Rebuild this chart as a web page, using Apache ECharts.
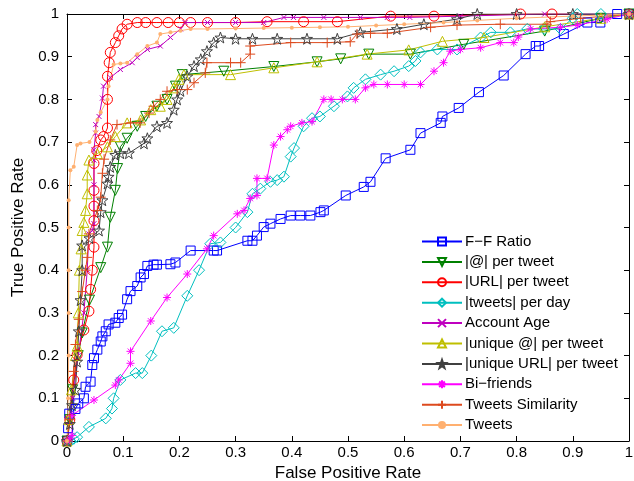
<!DOCTYPE html>
<html lang="en">
<head>
<meta charset="UTF-8" />
<title>ROC curves</title>
<script type="text/javascript" src="https://cdn.jsdelivr.net/npm/echarts@6/dist/echarts.min.js"></script>
<style>
  html, body { margin: 0; padding: 0; background: #fff; }
</style>
</head>
<body>
<div id="main" style="width: 634px; height: 481px;"></div>
<script type="text/javascript">
    // tick labels
    var ticks = ['0', '0.1', '0.2', '0.3', '0.4', '0.5', '0.6', '0.7', '0.8', '0.9', '1'];

    // [false positive rate, true positive rate]
    var ffRatio = [[0,0],[0.002,0.03],[0.004,0.064],[0.015,0.075],[0.02,0.088],[0.03,0.10],[0.033,0.127],[0.042,0.139],[0.045,0.178],[0.048,0.194],[0.054,0.214],[0.06,0.233],[0.063,0.245],[0.069,0.257],[0.074,0.273],[0.086,0.277],[0.092,0.288],[0.098,0.296],[0.107,0.332],[0.113,0.351],[0.125,0.363],[0.131,0.383],[0.137,0.391],[0.143,0.41],[0.154,0.413],[0.16,0.413],[0.184,0.414],[0.193,0.418],[0.22,0.446],[0.261,0.446],[0.267,0.446],[0.321,0.469],[0.33,0.469],[0.338,0.481],[0.35,0.501],[0.362,0.509],[0.38,0.52],[0.398,0.528],[0.415,0.528],[0.433,0.528],[0.451,0.536],[0.457,0.54],[0.496,0.575],[0.528,0.595],[0.54,0.607],[0.567,0.662],[0.611,0.682],[0.629,0.721],[0.665,0.745],[0.668,0.76],[0.697,0.78],[0.733,0.817],[0.777,0.856],[0.816,0.906],[0.834,0.925],[0.84,0.925],[0.884,0.953],[0.926,0.98],[0.949,0.98],[0.979,1],[1,1]];
    var atTweet = [[0,0],[0.005,0.05],[0.01,0.12],[0.02,0.2],[0.027,0.253],[0.04,0.33],[0.06,0.406],[0.072,0.454],[0.077,0.524],[0.086,0.587],[0.09,0.638],[0.095,0.689],[0.107,0.709],[0.125,0.737],[0.14,0.76],[0.16,0.784],[0.178,0.8],[0.193,0.831],[0.205,0.858],[0.279,0.866],[0.368,0.877],[0.445,0.888],[0.487,0.895],[0.537,0.906],[0.611,0.906],[0.706,0.929],[0.85,0.96],[0.95,0.99],[1,1]];
    var urlTweet = [[0,0],[0.005,0.05],[0.012,0.143],[0.018,0.202],[0.03,0.26],[0.039,0.304],[0.042,0.355],[0.045,0.40],[0.048,0.454],[0.048,0.516],[0.048,0.55],[0.048,0.587],[0.048,0.650],[0.053,0.68],[0.060,0.705],[0.065,0.713],[0.072,0.733],[0.072,0.80],[0.072,0.854],[0.075,0.886],[0.077,0.91],[0.086,0.933],[0.092,0.949],[0.098,0.965],[0.107,0.976],[0.125,0.98],[0.14,0.98],[0.16,0.98],[0.18,0.98],[0.2,0.98],[0.22,0.98],[0.25,0.98],[0.3,0.98],[0.356,0.982],[0.421,0.982],[0.481,0.982],[0.576,0.995],[0.653,0.995],[0.807,1],[0.863,1],[1,1]];
    var tweetsDay = [[0,0],[0.006,0],[0.012,0.005],[0.018,0.009],[0.039,0.033],[0.069,0.053],[0.08,0.076],[0.083,0.1],[0.095,0.143],[0.122,0.159],[0.134,0.159],[0.15,0.2],[0.169,0.257],[0.19,0.265],[0.214,0.34],[0.235,0.40],[0.255,0.462],[0.273,0.465],[0.3,0.5],[0.321,0.536],[0.33,0.579],[0.344,0.591],[0.362,0.607],[0.374,0.611],[0.386,0.619],[0.398,0.666],[0.404,0.686],[0.421,0.737],[0.436,0.756],[0.45,0.76],[0.475,0.784],[0.499,0.807],[0.51,0.827],[0.531,0.847],[0.558,0.858],[0.582,0.866],[0.608,0.878],[0.62,0.89],[0.629,0.91],[0.659,0.917],[0.694,0.917],[0.736,0.945],[0.754,0.957],[0.789,0.957],[0.819,0.965],[0.849,0.965],[0.878,0.965],[0.9,0.99],[0.908,1],[0.95,1],[1,1]];
    var accountAge = [[0,0],[0.01,0.1],[0.02,0.2],[0.03,0.3],[0.036,0.4],[0.039,0.485],[0.045,0.493],[0.048,0.509],[0.048,0.6],[0.048,0.658],[0.048,0.682],[0.051,0.721],[0.051,0.741],[0.057,0.76],[0.063,0.803],[0.065,0.831],[0.077,0.851],[0.095,0.87],[0.116,0.886],[0.125,0.898],[0.143,0.917],[0.166,0.925],[0.184,0.945],[0.202,0.965],[0.21,0.98],[0.25,0.98],[0.3,0.98],[0.35,0.98],[0.386,0.992],[0.403,0.992],[0.457,0.992],[0.522,0.992],[0.57,0.992],[0.61,0.992],[0.7,0.995],[0.85,1],[1,1]];
    var uniqAt = [[0,0],[0.003,0.05],[0.008,0.12],[0.015,0.2],[0.018,0.222],[0.02,0.3],[0.022,0.4],[0.025,0.45],[0.027,0.493],[0.03,0.512],[0.033,0.54],[0.036,0.579],[0.036,0.623],[0.039,0.658],[0.054,0.673],[0.072,0.689],[0.086,0.713],[0.107,0.745],[0.131,0.752],[0.149,0.776],[0.166,0.784],[0.178,0.8],[0.19,0.827],[0.199,0.847],[0.208,0.858],[0.291,0.858],[0.368,0.874],[0.445,0.888],[0.534,0.906],[0.608,0.916],[0.668,0.936],[0.742,0.945],[0.85,0.97],[0.95,0.99],[1,1]];
    var uniqUrl = [[0,0],[0.005,0.04],[0.009,0.084],[0.015,0.12],[0.018,0.186],[0.021,0.257],[0.024,0.33],[0.027,0.4],[0.027,0.458],[0.04,0.475],[0.057,0.493],[0.06,0.536],[0.063,0.564],[0.072,0.603],[0.074,0.619],[0.077,0.642],[0.086,0.670],[0.095,0.674],[0.11,0.674],[0.137,0.697],[0.143,0.709],[0.16,0.737],[0.178,0.745],[0.19,0.776],[0.196,0.8],[0.202,0.82],[0.214,0.854],[0.226,0.878],[0.238,0.894],[0.249,0.913],[0.261,0.933],[0.273,0.945],[0.3,0.942],[0.33,0.942],[0.374,0.942],[0.427,0.942],[0.481,0.942],[0.522,0.957],[0.587,0.965],[0.635,0.976],[0.694,0.988],[0.73,1],[0.8,1],[0.9,1],[1,1]];
    var biFriends = [[0,0],[0.005,0.005],[0.009,0.013],[0.009,0.06],[0.048,0.096],[0.086,0.131],[0.092,0.143],[0.113,0.182],[0.113,0.21],[0.149,0.281],[0.178,0.336],[0.214,0.391],[0.249,0.45],[0.261,0.481],[0.303,0.532],[0.315,0.54],[0.326,0.568],[0.338,0.575],[0.338,0.615],[0.356,0.615],[0.368,0.693],[0.38,0.713],[0.392,0.729],[0.398,0.737],[0.418,0.745],[0.436,0.748],[0.457,0.8],[0.47,0.8],[0.49,0.8],[0.513,0.8],[0.531,0.827],[0.546,0.835],[0.57,0.835],[0.6,0.835],[0.629,0.835],[0.653,0.866],[0.67,0.886],[0.682,0.913],[0.7,0.917],[0.736,0.921],[0.771,0.933],[0.795,0.933],[0.803,0.946],[0.825,0.965],[0.878,0.969],[0.908,0.974],[0.961,0.988],[1,1]];
    var tweetsSim = [[0,0],[0.005,0.05],[0.012,0.163],[0.015,0.226],[0.021,0.285],[0.027,0.35],[0.033,0.40],[0.036,0.43],[0.039,0.485],[0.054,0.54],[0.06,0.571],[0.063,0.627],[0.066,0.66],[0.077,0.705],[0.089,0.741],[0.113,0.745],[0.13,0.745],[0.146,0.768],[0.154,0.784],[0.166,0.8],[0.178,0.819],[0.196,0.823],[0.214,0.823],[0.226,0.839],[0.246,0.862],[0.249,0.886],[0.291,0.886],[0.309,0.886],[0.326,0.906],[0.326,0.925],[0.398,0.933],[0.463,0.933],[0.504,0.935],[0.516,0.953],[0.54,0.955],[0.57,0.955],[0.647,0.969],[0.694,0.974],[0.771,0.976],[0.854,0.976],[0.86,0.982],[0.914,0.99],[1,1]];
    var tweets = [[0,0],[0.002,0.1],[0.003,0.2],[0.003,0.3],[0.003,0.4],[0.003,0.5],[0.003,0.564],[0.006,0.634],[0.012,0.642],[0.018,0.693],[0.024,0.697],[0.04,0.70],[0.051,0.725],[0.054,0.752],[0.06,0.77],[0.072,0.80],[0.074,0.831],[0.083,0.882],[0.095,0.884],[0.107,0.886],[0.125,0.906],[0.143,0.925],[0.16,0.933],[0.166,0.953],[0.184,0.957],[0.202,0.961],[0.22,0.965],[0.25,0.965],[0.3,0.966],[0.35,0.967],[0.4,0.968],[0.45,0.969],[0.5,0.97],[0.55,0.973],[0.6,0.976],[0.67,0.98],[0.73,0.985],[0.8,0.99],[0.9,0.995],[1,1]];

    var starPath = 'path://M5,0L6.18,3.38L9.76,3.45L6.9,5.62L7.94,9.05L5,7L2.06,9.05L3.1,5.62L0.24,3.45L3.82,3.38Z';
    var plusPath = 'path://M0,5L10,5M5,0L5,10';
    var crossPath = 'path://M0,0L10,10M10,0L0,10';
    var asterPath = 'path://M0,5L10,5M5,0L5,10M1.5,1.5L8.5,8.5M8.5,1.5L1.5,8.5';

    function line(name, data, color, symbol, size, rotate, filled) {
        return {
            name: name,
            type: 'line',
            data: data,
            color: color,
            symbol: symbol,
            symbolSize: size,
            symbolRotate: rotate || 0,
            showSymbol: true,
            showAllSymbol: true,
            lineStyle: { color: color, width: 1 },
            itemStyle: filled ? { color: color } : { color: 'rgba(0,0,0,0)', borderColor: color, borderWidth: 1 },
            emphasis: { disabled: true }
        };
    }

    var font = 'Liberation Sans';
    var myChart = echarts.init(document.getElementById('main'));

    var axisCommon = {
        type: 'value', min: 0, max: 1, interval: 0.1,
        splitLine: { show: false },
        axisLine: { show: true, onZero: false, lineStyle: { color: '#000', width: 1 } },
        axisTick: { show: true, inside: true, length: 5, lineStyle: { color: '#000' } }
    };
    var fmt = function (v) { return ticks[Math.round(v * 10)]; };

    var options = {
        animation: false,
        backgroundColor: '#fff',
        textStyle: { fontFamily: font },
        grid: { left: 67, right: 5, top: 14, bottom: 40, outerBoundsMode: 'none' },
        legend: {
            orient: 'vertical',
            left: 421, top: 234,
            itemWidth: 40, itemHeight: 10, itemGap: 5.4,
            padding: 0,
            textStyle: { fontSize: 15, color: '#000', fontFamily: font, padding: [0, 0, 0, -2] },
            data: ['F\u2212F Ratio', '|@| per tweet', '|URL| per tweet', '|tweets| per day', 'Account Age',
                   '|unique @| per tweet', '|unique URL| per tweet', 'Bi\u2212friends', 'Tweets Similarity', 'Tweets']
        },
        xAxis: [
            Object.assign({}, axisCommon, {
                position: 'bottom',
                name: 'False Positive Rate', nameLocation: 'middle', nameGap: 17,
                nameTextStyle: { fontSize: 17, color: '#000', fontFamily: font },
                axisLabel: { fontSize: 15, color: '#000', margin: 4, formatter: fmt, fontFamily: font }
            }),
            Object.assign({}, axisCommon, { position: 'top', axisLabel: { show: false } })
        ],
        yAxis: [
            Object.assign({}, axisCommon, {
                position: 'left',
                name: 'True Positive Rate', nameLocation: 'middle', nameGap: 29,
                nameTextStyle: { fontSize: 17, color: '#000', fontFamily: font },
                axisLabel: { fontSize: 15, color: '#000', margin: 8, formatter: fmt, fontFamily: font }
            }),
            Object.assign({}, axisCommon, { position: 'right', axisLabel: { show: false } })
        ],
        series: [
            line('F\u2212F Ratio', ffRatio, '#0000FF', 'rect', 9),
            line('|@| per tweet', atTweet, '#008000', 'triangle', 10, 180),
            line('|URL| per tweet', urlTweet, '#FF0000', 'circle', 10),
            line('|tweets| per day', tweetsDay, '#00BFBF', 'diamond', 11),
            line('Account Age', accountAge, '#BF00BF', crossPath, 5),
            line('|unique @| per tweet', uniqAt, '#BFBF00', 'triangle', 10),
            line('|unique URL| per tweet', uniqUrl, '#404040', starPath, 11),
            line('Bi\u2212friends', biFriends, '#FF00FF', asterPath, 8),
            line('Tweets Similarity', tweetsSim, '#DD4A1E', plusPath, 10),
            line('Tweets', tweets, '#FFB070', 'circle', 4, 0, true)
        ]
    };
    myChart.setOption(options);
</script>
</body>
</html>
